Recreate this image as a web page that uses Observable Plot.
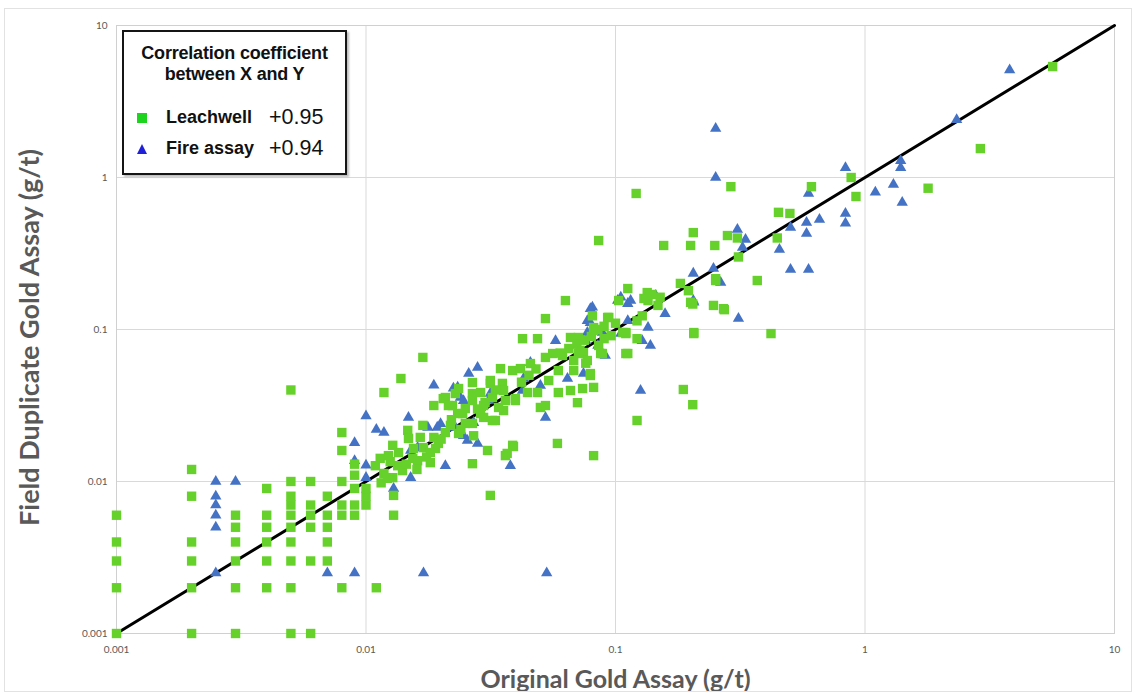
<!DOCTYPE html>
<html>
<head>
<meta charset="utf-8">
<script src="https://cdn.jsdelivr.net/npm/d3@7"></script>
<script src="https://cdn.jsdelivr.net/npm/@observablehq/plot@0.6"></script>
<style>
  body { margin: 0; background: #fff; }
  #wrap { position: relative; width: 1134px; height: 693px; }
  #outer { position: absolute; left: 4px; top: 8px; width: 1126px; height: 682px; border: 1px solid #e2e2e2; pointer-events: none; }
  #legend { position: absolute; left: 122px; top: 30px; width: 221px; height: 141px; border: 2.5px solid #151515; background: #fff;
            box-shadow: 2px 2px 2px #bdbdbd; font-family: "Liberation Sans", Arial, sans-serif; color: #111; }
  #legend .t { position: absolute; left: 0; width: 100%; text-align: center; font-weight: bold; font-size: 18px; line-height: 20px; letter-spacing: -0.2px; }
  #legend .name { position: absolute; left: 42px; font-weight: bold; font-size: 18px; line-height: 22px; }
  #legend .val { position: absolute; left: 145px; font-size: 21.5px; line-height: 24px; }
  #legend svg { position: absolute; }
</style>
</head>
<body>
<div id="wrap">
  <div id="chart"></div>
  <div id="outer"></div>
  <div id="legend"></div>
</div>
<script>
// ---- data (g/t) ----
const axisTicks = [0.001, 0.01, 0.1, 1, 10];
const diagonal = [0.001, 10];
const xTitle = "Original Gold Assay (g/t)";
const yTitle = "Field Duplicate Gold Assay (g/t)";
const legendTitle = ["Correlation coefficient", "between X and Y"];
const seriesNames = ["Leachwell", "Fire assay"];
const seriesCorr = ["+0.95", "+0.94"];

// Leachwell: [original, duplicate]
const leachwell = [
  [0.001,0.001],[0.001,0.002],[0.001,0.003],[0.001,0.004],[0.001,0.006],
  [0.002,0.001],[0.002,0.002],[0.002,0.003],[0.002,0.004],[0.002,0.008],[0.002,0.012],
  [0.003,0.001],[0.003,0.002],[0.003,0.003],[0.003,0.004],[0.003,0.005],[0.003,0.006],
  [0.004,0.002],[0.004,0.003],[0.004,0.004],[0.004,0.005],[0.004,0.006],[0.004,0.009],
  [0.005,0.001],[0.005,0.002],[0.005,0.003],[0.005,0.004],[0.005,0.005],[0.005,0.006],[0.005,0.007],[0.005,0.008],[0.005,0.01],[0.005,0.04],
  [0.006,0.001],[0.006,0.003],[0.006,0.005],[0.006,0.006],[0.006,0.007],[0.006,0.01],
  [0.007,0.003],[0.007,0.004],[0.007,0.005],[0.007,0.006],[0.007,0.008],
  [0.008,0.002],[0.008,0.006],[0.008,0.007],[0.008,0.01],[0.008,0.016],[0.008,0.021],
  [0.009,0.006],[0.009,0.007],[0.009,0.009],[0.009,0.011],[0.009,0.013],
  [0.01,0.007],[0.01,0.008],[0.01,0.009],[0.011,0.002],
  [0.0118,0.0385],[0.0109,0.0127],[0.0114,0.0142],[0.0118,0.0113],[0.0123,0.0148],[0.0128,0.0173],[0.0128,0.0106],
  [0.0129,0.0081],[0.0129,0.006],[0.0134,0.0127],[0.014,0.0118],[0.0147,0.0217],[0.0148,0.0192],[0.0154,0.0142],
  [0.0161,0.0137],[0.0169,0.0234],[0.017,0.0167],[0.0181,0.0155],[0.0181,0.0133],[0.0187,0.0195],[0.0195,0.0178],
  [0.0204,0.0351],[0.0208,0.021],[0.0218,0.0234],[0.0222,0.0316],[0.0228,0.0379],[0.0235,0.0207],[0.0244,0.028],
  [0.025,0.0241],[0.0267,0.0379],[0.0267,0.0131],[0.027,0.02],[0.0288,0.028],[0.0296,0.0316],[0.0307,0.016],
  [0.0315,0.0081],[0.0315,0.0442],[0.033,0.0252],[0.0356,0.0293],[0.0362,0.0148],[0.0387,0.0173],[0.0397,0.0351],
  [0.0444,0.0385],[0.0138,0.0476],[0.0169,0.0655],
  [0.063,0.155],[0.0524,0.118],[0.0808,0.123],[0.103,0.155],[0.0424,0.087],[0.0487,0.087],[0.066,0.0886],
  [0.071,0.0886],[0.0817,0.0986],[0.093,0.12],[0.11,0.0955],[0.11,0.0695],[0.0346,0.0553],[0.0387,0.0537],
  [0.0315,0.0462],[0.0352,0.0442],[0.0267,0.0448],[0.0235,0.0409],[0.0208,0.0357],[0.0187,0.0316],[0.0214,0.0316],
  [0.0233,0.028],[0.025,0.0302],[0.0267,0.0341],[0.0288,0.0385],[0.0296,0.0264],[0.0321,0.0357],[0.034,0.0307],
  [0.0356,0.0397],[0.0362,0.0341],[0.0397,0.0341],[0.0487,0.0385],[0.05,0.0307],[0.0524,0.0316],
  [0.0524,0.0655],[0.056,0.0695],[0.0613,0.0674],[0.054,0.0462],[0.059,0.0537],[0.059,0.0385],[0.066,0.0397],
  [0.0704,0.033],[0.0738,0.0409],[0.068,0.0537],[0.0744,0.0706],[0.0771,0.0625],[0.071,0.0695],[0.0793,0.0498],
  [0.0817,0.0416],[0.0856,0.0785],[0.0886,0.0695],[0.096,0.091],[0.107,0.0955],[0.0267,0.0241],[0.0321,0.0252],
  [0.0416,0.0553],[0.0456,0.0597],
  [0.0856,0.385],[0.205,0.434],[0.281,0.415],[0.308,0.40],[0.156,0.357],[0.2,0.357],[0.25,0.357],[0.112,0.186],
  [0.134,0.175],[0.135,0.155],[0.151,0.163],[0.148,0.144],[0.128,0.123],[0.122,0.114],[0.094,0.12],[0.0817,0.103],
  [0.09,0.087],[0.11,0.094],[0.122,0.087],[0.182,0.201],[0.196,0.18],[0.2,0.151],[0.247,0.144],[0.271,0.137],
  [0.252,0.216],[0.206,0.0955],[0.112,0.0695],[0.0872,0.0695],[0.072,0.073],[0.068,0.0625],[0.0793,0.0513],[0.076,0.06],
  [5.65,5.37],[2.9,1.55],[1.79,0.85],[0.88,1.0],[0.92,0.75],[0.61,0.87],[0.29,0.87],[0.45,0.59],[0.50,0.58],
  [0.445,0.40],[0.311,0.30],[0.37,0.21],[0.252,0.21],[0.204,0.147],[0.273,0.135],[0.206,0.094],[0.42,0.094],[0.121,0.785],
  [0.122,0.0252],[0.0817,0.0148],[0.0585,0.0178],[0.204,0.032],[0.187,0.0403],[0.039,0.017],[0.0368,0.0153],
  [0.0125,0.0135],[0.0135,0.0155],[0.0145,0.013],[0.0155,0.0165],[0.016,0.012],[0.0175,0.0145],[0.019,0.0165],
  [0.0115,0.0098],[0.0122,0.0105],[0.0165,0.0195],[0.02,0.019],[0.022,0.0255],[0.024,0.022],[0.028,0.03],
  [0.03,0.033],[0.033,0.04],[0.042,0.045],[0.045,0.05],[0.048,0.055],[0.06,0.07],[0.065,0.075],[0.07,0.08],
  [0.075,0.085],[0.08,0.09],[0.085,0.1],[0.09,0.105],[0.1,0.11],[0.13,0.16],[0.14,0.17]
];

// Fire assay: [original, duplicate]
const fireAssay = [
  [0.0025,0.0025],[0.0025,0.005],[0.0025,0.006],[0.0025,0.007],[0.0025,0.008],[0.0025,0.01],
  [0.003,0.01],[0.007,0.0025],[0.009,0.0025],[0.009,0.0137],[0.009,0.018],
  [0.01,0.027],[0.01,0.0128],[0.01,0.0106],[0.011,0.022],[0.0118,0.021],[0.0129,0.009],[0.0148,0.0264],
  [0.0151,0.016],[0.0161,0.0167],[0.0151,0.0106],[0.0177,0.0227],[0.0187,0.043],[0.0199,0.024],[0.0208,0.0127],
  [0.0233,0.0416],[0.0246,0.034],[0.0255,0.0186],[0.028,0.0178],[0.0315,0.038],[0.0379,0.0127],[0.0424,0.0397],
  [0.017,0.0025],[0.053,0.0025],[0.0193,0.0227],[0.0228,0.0227],[0.028,0.0563],[0.0258,0.0513],[0.0456,0.0607],
  [0.0428,0.0476],[0.0575,0.0844],[0.05,0.0428],[0.0642,0.0476],[0.0744,0.0513],[0.0524,0.0264],[0.0808,0.14],
  [0.0793,0.111],[0.0771,0.0955],[0.0886,0.0955],[0.102,0.155],[0.112,0.148],[0.091,0.0674],[0.0239,0.0357],
  [0.031,0.0341],[0.126,0.0397],[0.205,0.234],[0.247,0.252],[0.264,0.204],[0.115,0.155],[0.105,0.163],
  [0.0793,0.137],[0.145,0.167],[0.158,0.127],[0.135,0.103],[0.205,0.155],[0.138,0.0785],[0.112,0.114],
  [0.0771,0.114],[0.076,0.0844],[0.085,0.0785],[0.105,0.094],[0.128,0.0844],
  [3.8,5.1],[2.33,2.4],[1.39,1.29],[1.39,1.16],[1.30,0.90],[1.10,0.80],[1.41,0.685],[0.835,1.16],[0.594,0.785],
  [0.657,0.53],[0.583,0.506],[0.583,0.428],[0.503,0.469],[0.835,0.58],[0.835,0.50],[0.454,0.336],[0.503,0.248],
  [0.594,0.248],[0.252,2.1],[0.252,1.0],[0.308,0.455],[0.332,0.391],[0.323,0.346],[0.206,0.151],[0.311,0.118],
  [0.027,0.0244],[0.0246,0.02],[0.0224,0.041]
];

const green = "#66d12a";
const blue = "#4472c4";
const fmt = d => String(d);

const chart = Plot.plot({
  width: 1134,
  height: 693,
  marginLeft: 116,
  marginRight: 20,
  marginTop: 25,
  marginBottom: 60,
  style: { fontFamily: "Lato, 'Open Sans', sans-serif", fontSize: "10px", color: "#595959", background: "transparent" },
  x: { type: "log", domain: [0.001, 10], ticks: axisTicks, tickFormat: fmt, tickSize: 0, tickPadding: 12, label: null },
  y: { type: "log", domain: [0.001, 10], ticks: axisTicks, tickFormat: fmt, tickSize: 0, tickPadding: 9, label: null },
  marks: [
    Plot.ruleX(axisTicks, { stroke: "#d9d9d9", strokeWidth: 1 }),
    Plot.ruleY(axisTicks, { stroke: "#d9d9d9", strokeWidth: 1 }),
    Plot.frame({ stroke: "#d0d0d0" }),
    Plot.line(diagonal, { x: d => d, y: d => d, stroke: "#000", strokeWidth: 3 }),
    Plot.dot(fireAssay, { x: d => d[0], y: d => d[1], symbol: "triangle", r: 4.2, fill: blue, stroke: "none" }),
    Plot.dot(leachwell, { x: d => d[0], y: d => d[1], symbol: "square", r: 5.3, fill: green, stroke: "none" }),
    Plot.text([xTitle], { frameAnchor: "bottom", dy: 46, textAnchor: "middle", lineAnchor: "middle", fontSize: 25, fontWeight: "bold", fill: "#595959", fontFamily: "Lato, sans-serif" }),
    Plot.text([yTitle], { frameAnchor: "left", dx: -86, dy: 8, textAnchor: "middle", lineAnchor: "middle", rotate: -90, fontSize: 27, fontWeight: "bold", fill: "#595959", fontFamily: "Lato, sans-serif" })
  ]
});
document.getElementById("chart").appendChild(chart);

// legend
const lg = document.getElementById("legend");
lg.innerHTML = `
  <div class="t" style="top:11px">${legendTitle[0]}</div>
  <div class="t" style="top:32px">${legendTitle[1]}</div>
  <svg style="left:12px;top:80px" width="12" height="12"><rect x="1" y="1" width="10" height="10" fill="#1ed41e"/></svg>
  <div class="name" style="top:74px">${seriesNames[0]}</div>
  <div class="val" style="top:73px">${seriesCorr[0]}</div>
  <svg style="left:12px;top:111px" width="12" height="12"><path d="M6,1 L11,11 L1,11 Z" fill="#2020d8"/></svg>
  <div class="name" style="top:105px">${seriesNames[1]}</div>
  <div class="val" style="top:104px">${seriesCorr[1]}</div>
`;
</script>
</body>
</html>
